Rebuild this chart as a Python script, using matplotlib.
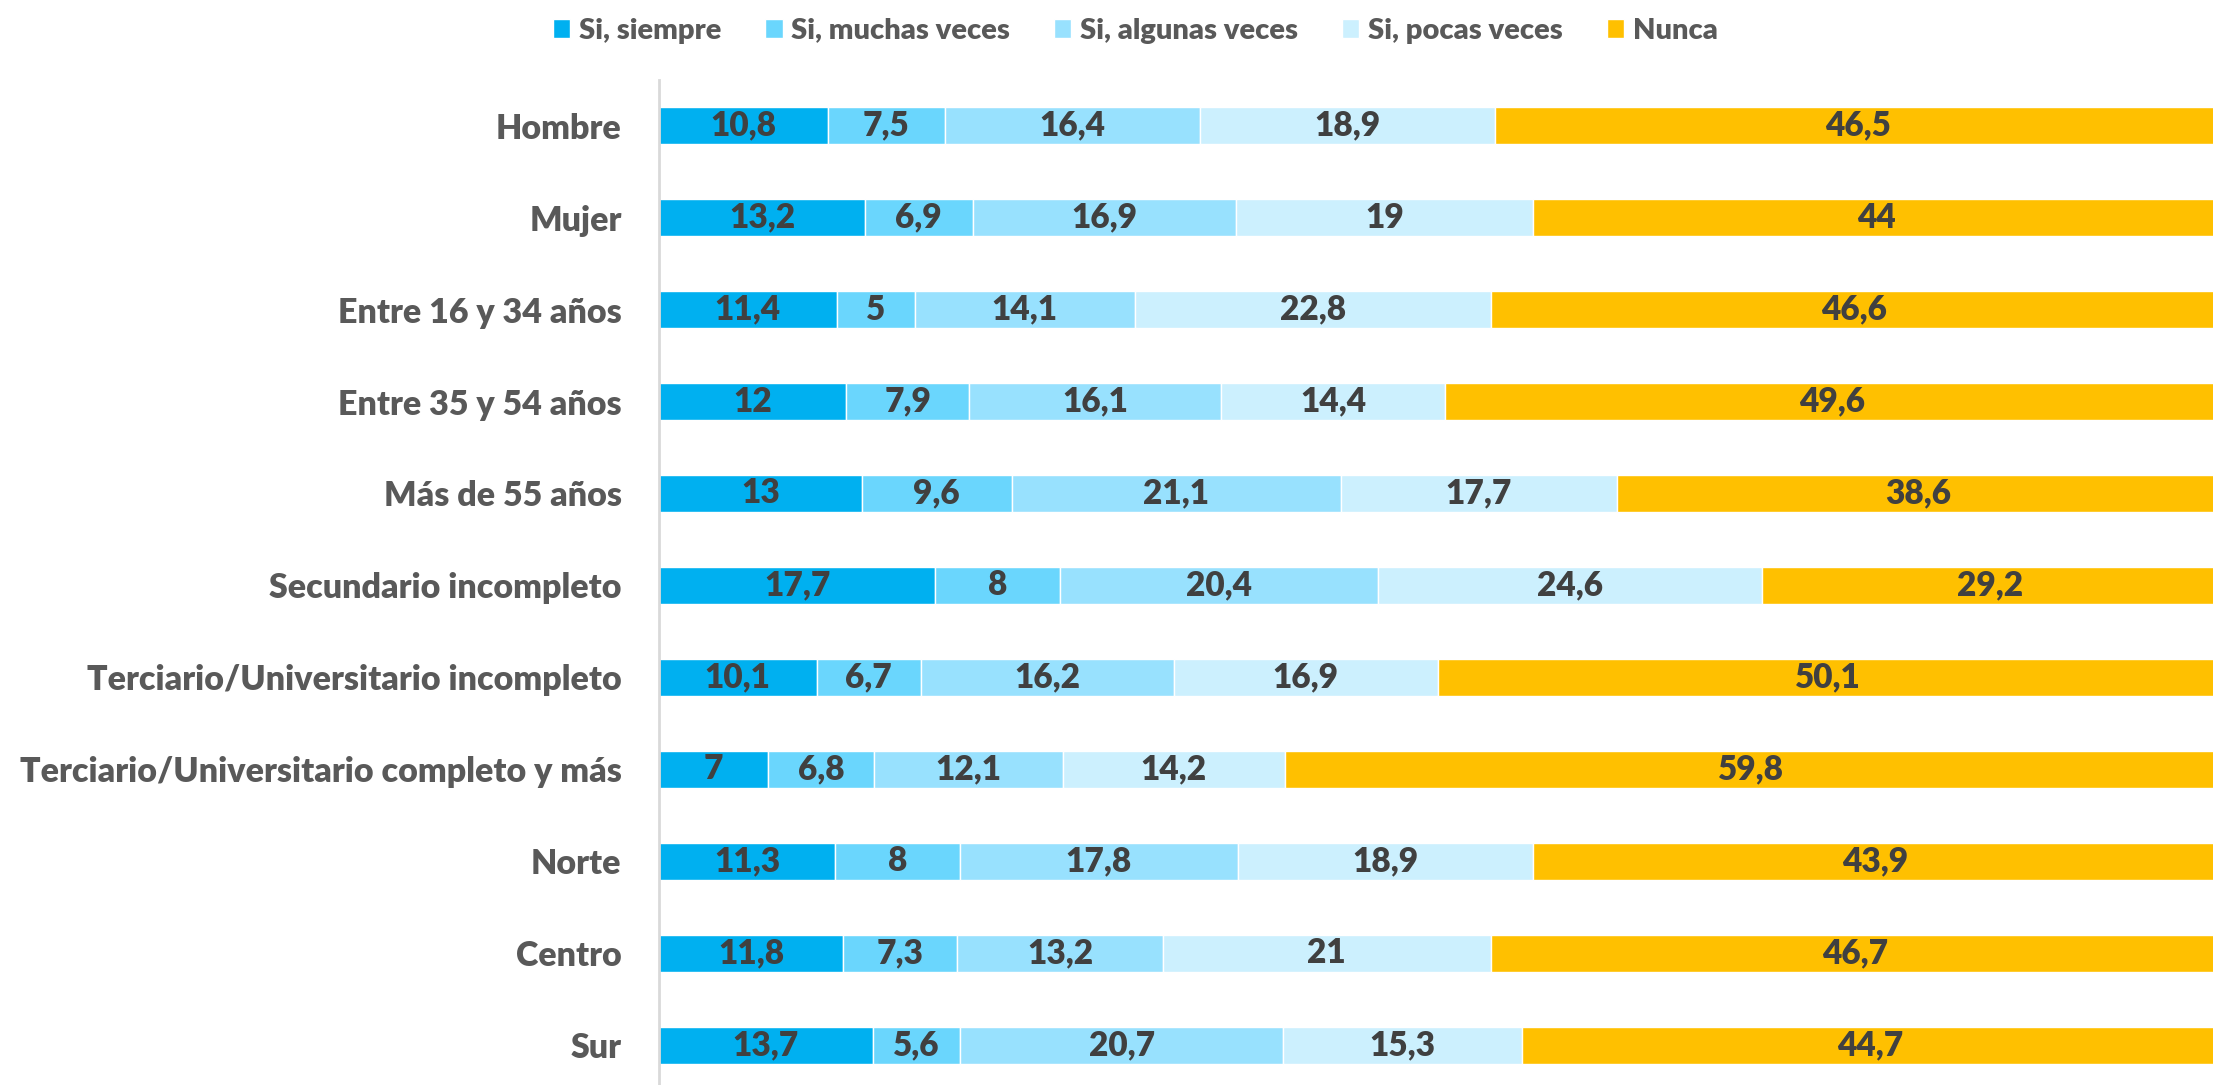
import matplotlib
matplotlib.use("Agg")
from matplotlib import pyplot as plt

plt.rcParams['font.family'] = ['Lato', 'DejaVu Sans']

categories = ['Hombre', 'Mujer', 'Entre 16 y 34 años', 'Entre 35 y 54 años',
              'Más de 55 años', 'Secundario incompleto',
              'Terciario/Universitario incompleto',
              'Terciario/Universitario completo y más',
              'Norte', 'Centro', 'Sur']

series_names = ['Si, siempre', 'Si, muchas veces', 'Si, algunas veces',
                'Si, pocas veces', 'Nunca']

siempre = [10.8, 13.2, 11.4, 12, 13, 17.7, 10.1, 7, 11.3, 11.8, 13.7]
muchas = [7.5, 6.9, 5, 7.9, 9.6, 8, 6.7, 6.8, 8, 7.3, 5.6]
algunas = [16.4, 16.9, 14.1, 16.1, 21.1, 20.4, 16.2, 12.1, 17.8, 13.2, 20.7]
pocas = [18.9, 19, 22.8, 14.4, 17.7, 24.6, 16.9, 14.2, 18.9, 21, 15.3]
nunca = [46.5, 44, 46.6, 49.6, 38.6, 29.2, 50.1, 59.8, 43.9, 46.7, 44.7]

colors = ['#00B0F0', '#6AD6FD', '#98E1FE', '#CCF0FE', '#FFC000']

fig = plt.figure(figsize=(22.13, 10.85), dpi=100)
ax = fig.add_axes([659 / 2213, 0, 1 - 659 / 2213, 1 - 80 / 1085])

ypos = list(range(len(categories)))
left = [0] * len(categories)
for name, vals, col in zip(series_names, [siempre, muchas, algunas, pocas, nunca], colors):
    ax.barh(ypos, vals, left=left, height=0.4, color=col,
            edgecolor='white', linewidth=1, label=name)
    for y, v, l in zip(ypos, vals, left):
        ax.text(l + v / 2, y, f"{v:g}".replace('.', ','), ha='center', va='center',
                fontsize=24, fontweight='heavy', color='#404040')
    left = [a + b for a, b in zip(left, vals)]

ax.set_xlim(0, 99.6)
ax.set_ylim(10.43, -0.495)
ax.set_yticks(ypos)
ax.set_yticklabels(categories, fontsize=24.5, fontweight='heavy', color='#595959')
ax.tick_params(axis='y', length=0, pad=27)
ax.set_xticks([])
for s in ['top', 'right', 'bottom']:
    ax.spines[s].set_visible(False)
ax.spines['left'].set_color('#D9D9D9')
ax.spines['left'].set_linewidth(2)

fig.legend(loc='upper center', bbox_to_anchor=(0.513, 1.008), ncol=5, frameon=False,
           handlelength=0.6, handleheight=0.6, handletextpad=0.3, columnspacing=1.5,
           prop={'size': 21, 'weight': 'heavy'}, labelcolor='#595959')

fig.savefig('out.png', dpi=100)
